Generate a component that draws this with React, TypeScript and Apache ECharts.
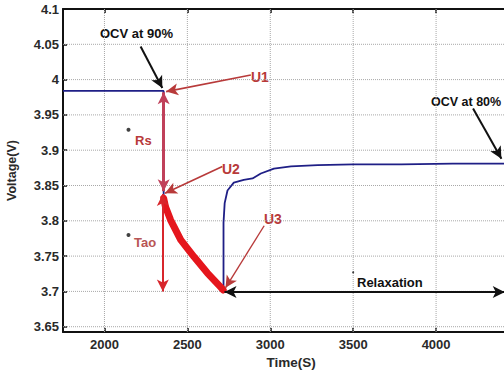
import React, { useEffect, useRef } from "react";
import * as echarts from "echarts";

// Blue measured voltage curve
const timeBlue = [1750, 2357, 2357, 2370, 2399, 2460, 2540, 2621, 2701, 2718, 2718, 2725, 2742, 2780, 2840, 2893, 2943, 3022, 3125, 3286, 3500, 3790, 4100, 4500];
const voltBlue = [3.984, 3.984, 3.835, 3.825, 3.801, 3.773, 3.749, 3.726, 3.704, 3.700, 3.797, 3.825, 3.843, 3.854, 3.858, 3.860, 3.867, 3.874, 3.877, 3.879, 3.880, 3.880, 3.881, 3.881];

// Thick red highlighted discharge segment
const timeRed = [2357, 2368, 2399, 2460, 2540, 2621, 2701, 2716];
const voltRed = [3.832, 3.820, 3.801, 3.773, 3.749, 3.726, 3.706, 3.702];

// Small dots
const dotTime = [2145, 2145, 3500];
const dotVolt = [3.929, 3.780, 3.727];

const X_MIN = 1750;
const X_MAX = 4500;
const Y_MIN = 3.6425;
const Y_MAX = 4.1;
const xTicks = [2000, 2500, 3000, 3500, 4000, 4500];
const xLabels = [2000, 2500, 3000, 3500, 4000];
const yTicks = [3.65, 3.7, 3.75, 3.8, 3.85, 3.9, 3.95, 4.0, 4.05, 4.1];

// Annotation arrows: [t1, v1, t2, v2]
const arrowOCV90 = [2218, 4.047, 2349, 3.988];
const arrowU1 = [2883, 4.0065, 2372, 3.983];
const arrowU2 = [2711, 3.877, 2365, 3.839];
const arrowU3 = [2963, 3.793, 2730, 3.705];
const arrowOCV80 = [4223, 3.959, 4394, 3.888];
const arrowRelax = [2724, 3.699, 4414, 3.699];
const arrowRs = [2357, 3.982, 2357, 3.842];
const arrowTao = [2352, 3.838, 2352, 3.700];

const BLUE = "#1f1f86";
const RED = "#e5161d";
const DARKRED = "#b83a3a";
const FONT = "Liberation Sans, Arial";

function oneWay(a: number[], color: string, width: number) {
  return [
    { coord: [a[0], a[1]], symbol: "none", lineStyle: { color, width, type: "solid" } },
    { coord: [a[2], a[3]], symbol: "arrow", symbolSize: [9, 12] },
  ];
}
function twoWay(a: number[], color: string, width: number) {
  return [
    { coord: [a[0], a[1]], symbol: "arrow", symbolSize: [9, 12], lineStyle: { color, width, type: "solid" } },
    { coord: [a[2], a[3]], symbol: "arrow", symbolSize: [9, 12] },
  ];
}

export default function App() {
  const ref = useRef<HTMLDivElement>(null);
  useEffect(() => {
    if (!ref.current) return;
    const chart = echarts.init(ref.current, null, { renderer: "svg" });
    const labelFont = { fontFamily: FONT, fontWeight: "bold" as const, fontSize: 13, color: "#2a2a2a" };
    const gridLine = { color: "#a8a8a8", type: "dotted", width: 1 };
    const gridSeries = [
      ...xTicks.map((t) => [[t, Y_MIN], [t, Y_MAX]]),
      ...yTicks.slice(0, -1).map((v) => [[X_MIN, v], [X_MAX, v]]),
    ].map((d) => ({
      type: "line",
      data: d,
      symbol: "none",
      showSymbol: false,
      silent: true,
      clip: false,
      lineStyle: gridLine,
      z: 1,
    }));
    const option: any = {
      animation: false,
      backgroundColor: "#ffffff",
      grid: { left: 63, top: 9, width: 456, height: 323, containLabel: false, outerBoundsMode: "none" },
      xAxis: [
        {
          type: "value",
          min: X_MIN,
          max: X_MAX,
          position: "bottom",
          axisLine: { show: true, lineStyle: { color: "#111", width: 2 } },
          axisTick: { show: true, inside: true, length: 4, customValues: xTicks, lineStyle: { color: "#111", width: 1.5 } },
          axisLabel: { ...labelFont, customValues: xLabels, margin: 6, formatter: (v: number) => String(v) },
          splitLine: { show: false },
          name: "Time(S)",
          nameLocation: "middle",
          nameGap: 21,
          nameTextStyle: { ...labelFont, fontSize: 13.5 },
        },
        {
          type: "value",
          min: X_MIN,
          max: X_MAX,
          position: "top",
          axisLine: { show: true, lineStyle: { color: "#111", width: 2 } },
          axisTick: { show: true, inside: true, length: 4, customValues: xTicks, lineStyle: { color: "#111", width: 1.5 } },
          axisLabel: { show: false },
          splitLine: { show: false },
        },
      ],
      yAxis: {
        type: "value",
        min: Y_MIN,
        max: Y_MAX,
        axisLine: { show: true, lineStyle: { color: "#111", width: 2 } },
        axisTick: { show: true, inside: true, length: 4, customValues: yTicks, lineStyle: { color: "#111", width: 1.5 } },
        axisLabel: { ...labelFont, customValues: yTicks, margin: 4, formatter: (v: number) => String(+v.toFixed(2)) },
        splitLine: { show: false },
        name: "Voltage(V)",
        nameLocation: "middle",
        nameGap: 45,
        nameTextStyle: { ...labelFont, fontSize: 12.5 },
      },
      series: [
        ...gridSeries,
        {
          type: "line",
          data: timeBlue.map((t, i) => [t, voltBlue[i]]),
          symbol: "none",
          lineStyle: { color: BLUE, width: 1.8 },
          z: 3,
          markLine: {
            silent: true,
            label: { show: false },
            lineStyle: { type: "solid" },
            data: [
              oneWay(arrowOCV90, "#111", 2),
              oneWay(arrowU1, DARKRED, 1.6),
              oneWay(arrowU2, DARKRED, 1.6),
              oneWay(arrowU3, DARKRED, 1.4),
              oneWay(arrowOCV80, "#111", 2),
              twoWay(arrowRelax, "#111", 1.8),
            ],
          },
        },
        {
          type: "line",
          data: timeRed.map((t, i) => [t, voltRed[i]]),
          symbol: "none",
          lineStyle: { color: RED, width: 7, cap: "round", join: "round" },
          z: 4,
          markLine: {
            silent: true,
            label: { show: false },
            data: [
              twoWay(arrowRs, "#c0405a", 3),
              twoWay(arrowTao, "#d8262c", 2),
            ],
          },
        },
        {
          type: "scatter",
          data: dotTime.map((t, i) => [t, dotVolt[i]]),
          symbolSize: (v: number[]) => (v[0] > 3000 ? 2 : 4),
          itemStyle: { color: "#111" },
          z: 5,
        },
      ],
      graphic: [
        { type: "text", left: 100, top: 27, style: { text: "OCV at 90%", fill: "#111", font: `bold 13px ${FONT}` } },
        { type: "text", left: 251, top: 70, style: { text: "U1", fill: DARKRED, font: `bold 14px ${FONT}` } },
        { type: "text", left: 222, top: 162, style: { text: "U2", fill: DARKRED, font: `bold 14px ${FONT}` } },
        { type: "text", left: 264, top: 212, style: { text: "U3", fill: DARKRED, font: `bold 14px ${FONT}` } },
        { type: "text", left: 135, top: 134, style: { text: "Rs", fill: DARKRED, font: `bold 13px ${FONT}` } },
        { type: "text", left: 134, top: 236, style: { text: "Tao", fill: "#b85555", font: `bold 13px ${FONT}` } },
        { type: "text", left: 431, top: 95, style: { text: "OCV at 80%", fill: "#111", font: `bold 12.5px ${FONT}` } },
        { type: "text", left: 357, top: 276, style: { text: "Relaxation", fill: "#111", font: `bold 13px ${FONT}` } },
      ],
    };
    chart.setOption(option);
    return () => chart.dispose();
  }, []);
  return (
    <div
      ref={ref}
      style={{ position: "absolute", left: 0, top: 0, width: 504, height: 371, overflow: "hidden", background: "#fff" }}
    />
  );
}
